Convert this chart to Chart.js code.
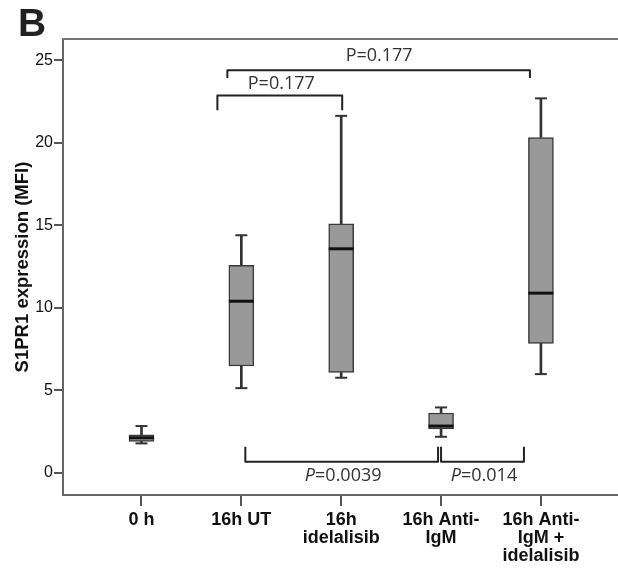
<!DOCTYPE html>
<html>
<head>
<meta charset="utf-8">
<script src="https://cdn.jsdelivr.net/npm/chart.js@4.4.1/dist/chart.umd.min.js"></script>
<style>
  html, body { margin: 0; padding: 0; background: #fff; }
  canvas { display: block; }
</style>
</head>
<body>
<canvas id="boxChart" width="618" height="571"></canvas>
<script>
const groups = ['0 h', '16h UT', ['16h', 'idelalisib'], ['16h Anti-', 'IgM'], ['16h Anti-', 'IgM +', 'idelalisib']];
const whiskerLow  = [1.78, 5.13, 5.76, 2.18, 5.98];
const boxLow      = [1.90, 6.47, 6.08, 2.65, 7.84];
const medians     = [2.12, 10.40, 13.58, 2.83, 10.89];
const boxHigh     = [2.30, 12.57, 15.10, 3.62, 20.33];
const whiskerHigh = [2.83, 14.40, 21.64, 3.96, 22.70];
const yTicks = [0, 5, 10, 15, 20, 25];

// comparison brackets, in data units (x = group index)
const brackets = [
  { from: 0.86, to: 3.89, y: 24.40, end: 23.94, text: 'P=0.177', textX: 2.38, textY: 25.30, italic: false },
  { from: 0.76, to: 2.01, y: 22.87, end: 21.98, text: 'P=0.177', textX: 1.40, textY: 23.60, italic: false },
  { from: 1.04, to: 2.97, y: 0.67, end: 1.58, text: 'P=0.0039', textX: 2.02, textY: -0.18, italic: true },
  { from: 3.00, to: 3.83, y: 0.67, end: 1.58, text: 'P=0.014', textX: 3.43, textY: -0.18, italic: true }
];

const FONT = '"Liberation Sans", Arial, sans-serif';
const PFONT = '"Open Sans", "Liberation Sans", sans-serif';
Chart.defaults.font.family = FONT;

const annotations = {
  id: 'annotations',
  afterDatasetsDraw(chart) {
    const { ctx, chartArea, scales: { x, y } } = chart;
    ctx.save();
    // top frame
    ctx.strokeStyle = '#777';
    ctx.lineWidth = 2;
    ctx.beginPath();
    ctx.moveTo(chartArea.left, chartArea.top);
    ctx.lineTo(chartArea.right, chartArea.top);
    ctx.stroke();

    // brackets + p values
    ctx.strokeStyle = '#222';
    ctx.lineJoin = 'round';
    ctx.fillStyle = '#333';
    ctx.textBaseline = 'middle';
    brackets.forEach(b => {
      const x1 = x.getPixelForValue(b.from), x2 = x.getPixelForValue(b.to);
      const yb = y.getPixelForValue(b.y), ye = y.getPixelForValue(b.end);
      ctx.beginPath();
      ctx.moveTo(x1, ye);
      ctx.lineTo(x1, yb);
      ctx.lineTo(x2, yb);
      ctx.lineTo(x2, ye);
      ctx.stroke();

      const tx = x.getPixelForValue(b.textX), ty = y.getPixelForValue(b.textY);
      const head = b.text[0], rest = b.text.slice(1);
      ctx.font = (b.italic ? 'italic ' : '') + '18px ' + PFONT;
      const w1 = ctx.measureText(head).width;
      ctx.font = '18px ' + PFONT;
      const w2 = ctx.measureText(rest).width;
      let sx = tx - (w1 + w2) / 2;
      ctx.textAlign = 'left';
      ctx.font = (b.italic ? 'italic ' : '') + '18px ' + PFONT;
      ctx.fillText(head, sx, ty);
      ctx.font = '18px ' + PFONT;
      ctx.fillText(rest, sx + w1, ty);
    });

    // panel letter
    ctx.fillStyle = '#222';
    ctx.font = 'bold 39px ' + FONT;
    ctx.textBaseline = 'alphabetic';
    ctx.fillText('B', 18, 36);
    ctx.restore();
  }
};

const pts = arr => arr.map((v, i) => ({ x: i, y: v }));

new Chart(document.getElementById('boxChart'), {
  type: 'bar',
  data: {
    datasets: [
      {
        type: 'scatter', data: pts(medians), order: 0,
        pointStyle: 'line', pointRadius: 12.5, pointBorderWidth: 3, pointBorderColor: '#111'
      },
      {
        type: 'scatter', data: pts(whiskerLow).concat(pts(whiskerHigh)), order: 1,
        pointStyle: 'line', pointRadius: 6, pointBorderWidth: 2, pointBorderColor: '#333'
      },
      {
        data: boxLow.map((v, i) => ({ x: i, y: [v, boxHigh[i]] })), order: 2,
        backgroundColor: '#999', borderColor: '#3a3a3a', borderWidth: 1.5, borderSkipped: false,
        barThickness: 25, grouped: false
      },
      {
        data: whiskerLow.map((v, i) => ({ x: i, y: [v, boxLow[i]] }))
          .concat(boxHigh.map((v, i) => ({ x: i, y: [v, whiskerHigh[i]] }))),
        order: 3, backgroundColor: '#333', barThickness: 2, grouped: false
      }
    ]
  },
  options: {
    responsive: false,
    animation: false,
    events: [],
    layout: { autoPadding: false, padding: { top: 39, left: 0, right: 0, bottom: 0 } },
    plugins: { legend: { display: false }, tooltip: { enabled: false } },
    scales: {
      x: {
        type: 'linear', min: -0.786, max: 4.772, offset: false,
        afterFit: s => { s.height = 76; s.paddingLeft = 0; s.paddingRight = 0; },
        grid: { drawOnChartArea: false, offset: false, tickLength: 11, color: '#555', lineWidth: 2 },
        border: { color: '#666', width: 2 },
        ticks: {
          stepSize: 1, includeBounds: false, autoSkip: false, maxRotation: 0, padding: 5,
          color: '#111', font: { size: 18, weight: 'bold', lineHeight: 1.0 },
          callback: v => groups[v] ?? ''
        }
      },
      y: {
        min: -1.35, max: 26.3,
        afterFit: s => { s.width = 63; },
        grid: { drawOnChartArea: false, tickLength: 9, color: '#555', lineWidth: 2 },
        border: { color: '#666', width: 2 },
        ticks: {
          stepSize: 5, includeBounds: false, padding: 1, color: '#111', font: { size: 16 },
          callback: v => yTicks.includes(v) ? v : ''
        },
        title: {
          display: true, text: 'S1PR1 expression (MFI)', color: '#111',
          font: { size: 18.5, weight: 'bold' }, padding: { top: 12, bottom: 0 }
        }
      }
    }
  },
  plugins: [annotations]
});
</script>
</body>
</html>
